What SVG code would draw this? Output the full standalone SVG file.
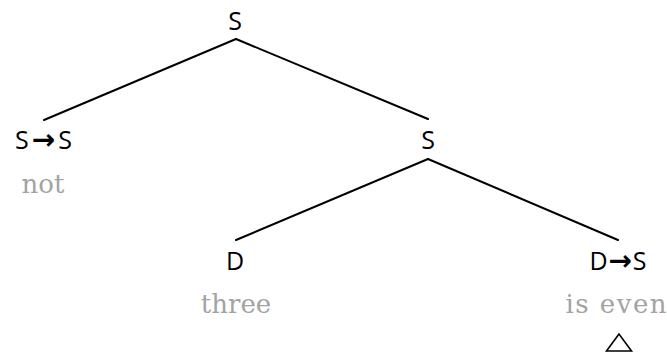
<svg xmlns="http://www.w3.org/2000/svg" width="667" height="354" viewBox="0 0 667 354">
  <style>
    .cat { font-family: "Open Sans", "DejaVu Sans", sans-serif; font-weight: 400; font-size: 25px; fill: #000; text-anchor: middle; }
    .arr { font-family: "DejaVu Sans", sans-serif; font-weight: bold; font-size: 28px; }
    .word { font-family: "DejaVu Serif", "Liberation Serif", serif; font-size: 26px; fill: #a3a3a3; text-anchor: middle; }
    .edge { stroke: #000; stroke-width: 2; fill: none; stroke-linecap: round; }
  </style>
  <rect width="667" height="354" fill="#fff"/>
  <g id="connectors">
    <line class="edge" x1="236" y1="39" x2="44" y2="120"/>
    <line class="edge" x1="236" y1="39" x2="428" y2="119"/>
    <line class="edge" x1="428" y1="159" x2="236" y2="240"/>
    <line class="edge" x1="428" y1="159" x2="618" y2="240"/>
  </g>
  <g id="root">
    <text class="cat" x="235" y="30">S</text>
  </g>
  <g id="neg">
    <text class="cat" x="43.5" y="149" textLength="57" lengthAdjust="spacing">S<tspan class="arr">→</tspan>S</text>
    <text class="word" x="43" y="193">not</text>
  </g>
  <g id="clause">
    <text class="cat" x="428" y="149">S</text>
  </g>
  <g id="subject">
    <text class="cat" x="235" y="270">D</text>
    <text class="word" x="236" y="313">three</text>
  </g>
  <g id="predicate">
    <text class="cat" x="618" y="270" textLength="57" lengthAdjust="spacing">D<tspan class="arr">→</tspan>S</text>
    <text class="word" x="616" y="313" textLength="101" lengthAdjust="spacing">is even</text>
    <polygon points="619,334 606.5,351 631.5,351" fill="none" stroke="#000" stroke-width="1.6" stroke-linejoin="miter"/>
  </g>
</svg>
